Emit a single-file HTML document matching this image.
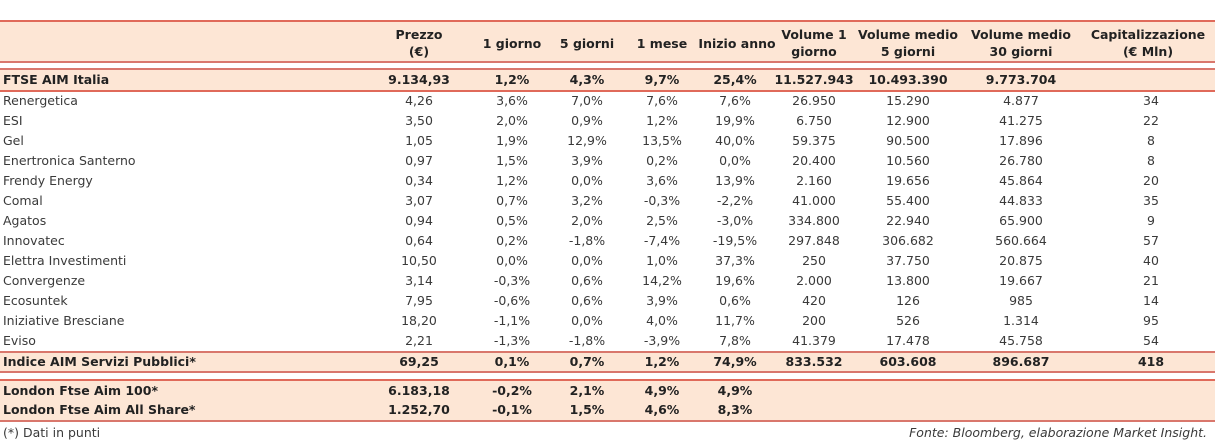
<!DOCTYPE html>
<html><head><meta charset="utf-8"><style>
body{margin:0;width:1215px;height:443px;background:#fff;position:relative;overflow:hidden;font-family:"DejaVu Sans","Liberation Sans",sans-serif;font-size:12.5px;color:#3a3a3a}
.band{position:absolute;left:0;width:1215px;background:#fde6d5}
.ln{position:absolute;left:0;width:1215px;height:2px;background:#d9776c}
.row{position:absolute;left:0;width:1215px;height:20px;line-height:20px}
.row span{position:absolute;top:0;white-space:nowrap;transform:translateX(-50%)}
.row span.n{left:3px;transform:none}
.b{font-weight:bold;color:#222}
.hd span{position:absolute;text-align:center;transform:translateX(-50%);font-weight:bold;line-height:17px;white-space:nowrap;color:#222;font-size:12.5px}
</style></head><body>
<div class="band" style="top:21px;height:41px"></div>
<div class="band" style="top:70px;height:21px"></div>
<div class="band" style="top:352px;height:20px"></div>
<div class="band" style="top:380px;height:41px"></div>
<div class="ln" style="top:20px;background:#e06a5a"></div>
<div class="ln" style="top:61px"></div>
<div class="ln" style="top:68px"></div>
<div class="ln" style="top:90px;background:#e06a5a"></div>
<div class="ln" style="top:351px"></div>
<div class="ln" style="top:371px"></div>
<div class="ln" style="top:379px;background:#e06a5a"></div>
<div class="ln" style="top:420px"></div>
<div class="hd" style="position:absolute;top:24px;left:0;width:1215px;height:36px">
<span style="left:419px;top:2px">Prezzo<br>(€)</span>
<span style="left:512px;top:11px">1 giorno</span>
<span style="left:587px;top:11px">5 giorni</span>
<span style="left:662px;top:11px">1 mese</span>
<span style="left:737px;top:11px">Inizio anno</span>
<span style="left:814px;top:2px">Volume 1<br>giorno</span>
<span style="left:908px;top:2px">Volume medio<br>5 giorni</span>
<span style="left:1021px;top:2px">Volume medio<br>30 giorni</span>
<span style="left:1148px;top:2px">Capitalizzazione<br>(€ Mln)</span>
</div>
<div id="rows"></div>
<div style="position:absolute;left:3px;top:425px;font-size:12.5px;line-height:16px">(*) Dati in punti</div>
<div style="position:absolute;right:8px;top:425px;font-size:12.5px;line-height:16px;font-style:italic">Fonte: Bloomberg, elaborazione Market Insight.</div>
<script>
const cols=[419,512,587,662,735,814,908,1021,1151];
const rows=[
["FTSE AIM Italia",["9.134,93","1,2%","4,3%","9,7%","25,4%","11.527.943","10.493.390","9.773.704",""],80,1],
["Renergetica",["4,26","3,6%","7,0%","7,6%","7,6%","26.950","15.290","4.877","34"],101,0],
["ESI",["3,50","2,0%","0,9%","1,2%","19,9%","6.750","12.900","41.275","22"],121,0],
["Gel",["1,05","1,9%","12,9%","13,5%","40,0%","59.375","90.500","17.896","8"],141,0],
["Enertronica Santerno",["0,97","1,5%","3,9%","0,2%","0,0%","20.400","10.560","26.780","8"],161,0],
["Frendy Energy",["0,34","1,2%","0,0%","3,6%","13,9%","2.160","19.656","45.864","20"],181,0],
["Comal",["3,07","0,7%","3,2%","-0,3%","-2,2%","41.000","55.400","44.833","35"],201,0],
["Agatos",["0,94","0,5%","2,0%","2,5%","-3,0%","334.800","22.940","65.900","9"],221,0],
["Innovatec",["0,64","0,2%","-1,8%","-7,4%","-19,5%","297.848","306.682","560.664","57"],241,0],
["Elettra Investimenti",["10,50","0,0%","0,0%","1,0%","37,3%","250","37.750","20.875","40"],261,0],
["Convergenze",["3,14","-0,3%","0,6%","14,2%","19,6%","2.000","13.800","19.667","21"],281,0],
["Ecosuntek",["7,95","-0,6%","0,6%","3,9%","0,6%","420","126","985","14"],301,0],
["Iniziative Bresciane",["18,20","-1,1%","0,0%","4,0%","11,7%","200","526","1.314","95"],321,0],
["Eviso",["2,21","-1,3%","-1,8%","-3,9%","7,8%","41.379","17.478","45.758","54"],341,0],
["Indice AIM Servizi Pubblici*",["69,25","0,1%","0,7%","1,2%","74,9%","833.532","603.608","896.687","418"],362,1],
["London Ftse Aim 100*",["6.183,18","-0,2%","2,1%","4,9%","4,9%","","","",""],391,1],
["London Ftse Aim All Share*",["1.252,70","-0,1%","1,5%","4,6%","8,3%","","","",""],410,1]];
const host=document.getElementById('rows');
rows.forEach(r=>{
 const d=document.createElement('div');
 
 
 d.className='row'+(r[3]?' b':'');
 d.style.top=(r[2]-10)+'px';
 let h='<span class="n">'+r[0]+'</span>';
 r[1].forEach((v,i)=>{h+='<span style="left:'+cols[i]+'px">'+v+'</span>';});
 d.innerHTML=h;
 host.appendChild(d);
});
</script>
</body></html>
